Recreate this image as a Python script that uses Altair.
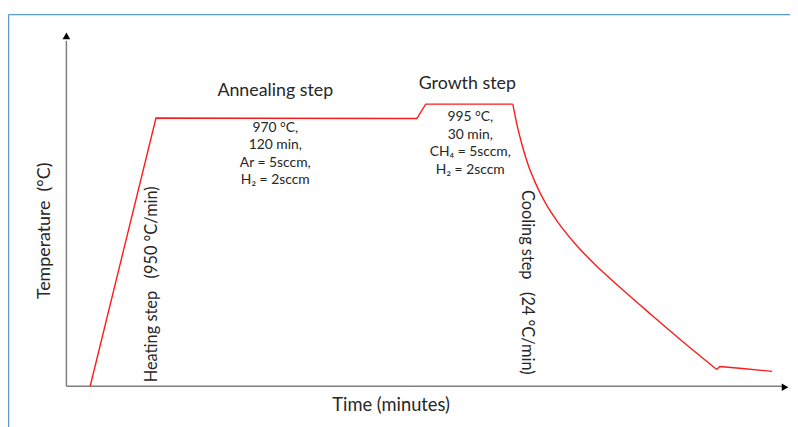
import altair as alt
import pandas as pd

# Schematic temperature profile (arbitrary time / temperature units)
# straight part: heating ramp, annealing plateau, growth plateau
ramp_time = [24, 90.5, 354, 363, 451]
ramp_temp = [0, 271, 270.5, 285, 285]
# smooth cooling curve
cool_time = [451, 455, 460, 466, 474, 484, 497, 513, 533, 558, 590, 624, 657]
cool_temp = [285, 265, 245, 225, 205, 185, 165, 145, 124, 101, 73, 44, 17]
# tail after cooling
tail_time = [657, 660, 683, 713]
tail_temp = [17, 20, 18, 15]

# Annotation texts
NB = "\u00a0"
step_titles = ["Annealing step", "Growth step"]
step_title_x = [211, 405]
step_title_y = [298, 305]

anneal_params = "970 °C,\n120 min,\nAr = 5sccm,\nH\u2082 = 2sccm"
growth_params = "995 °C,\n30 min,\nCH\u2084 = 5sccm,\nH\u2082 = 2sccm"
param_texts = [anneal_params, growth_params]
param_x = [211, 408]
param_y = [268, 279]

rot_texts = ["Temperature" + NB * 2 + "(°C)",
             "Heating step" + NB * 3 + "(950 °C/min)",
             "Cooling step" + NB * 3 + "(24 °C/min)"]
rot_x = [-22, 87, 465]
rot_y = [157, 103, 105]
rot_angle = [270, 270, 90]
rot_size = [18, 16.5, 16.5]

x_title = "Time (minutes)"

X_DOM = [-59, 731]
Y_DOM = [-39, 380]

def xs():
    return alt.Scale(domain=X_DOM, nice=False, zero=False)

def ys():
    return alt.Scale(domain=Y_DOM, nice=False, zero=False)

RED = "#FF1A1A"

def seg(t, T, interp):
    df = pd.DataFrame({"t": t, "T": T, "o": list(range(len(t)))})
    return alt.Chart(df).mark_line(color=RED, strokeWidth=1.4, interpolate=interp).encode(
        x=alt.X("t:Q", scale=xs(), axis=None),
        y=alt.Y("T:Q", scale=ys(), axis=None),
        order="o:Q",
    )

line1 = seg(ramp_time, ramp_temp, "linear")
line2 = seg(cool_time, cool_temp, "monotone")
line3 = seg(tail_time, tail_temp, "linear")

# Axes with arrows
axes_df = pd.DataFrame({
    "x": [0, 0], "x2": [0, 723], "y": [0, 0], "y2": [349, 0]
})
axes = alt.Chart(axes_df).mark_rule(color="#7F7F7F", strokeWidth=1.5).encode(
    x=alt.X("x:Q", scale=xs(), axis=None), x2="x2:Q",
    y=alt.Y("y:Q", scale=ys(), axis=None), y2="y2:Q",
)

arrow_df = pd.DataFrame({"x": [0, 726], "y": [354, -1], "shape": ["triangle-up", "triangle-right"]})
arrows = alt.Chart(arrow_df).mark_point(filled=True, color="black", size=60, opacity=1).encode(
    x=alt.X("x:Q", scale=xs(), axis=None),
    y=alt.Y("y:Q", scale=ys(), axis=None),
    shape=alt.Shape("shape:N", scale=None, legend=None),
)

# Blue frame
frame_df = pd.DataFrame({"x": [-58.4, -58.4], "x2": [745, -58.4], "y": [375.5, 375.5], "y2": [375.5, -45]})
frame = alt.Chart(frame_df).mark_rule(color="#5B9BD5", strokeWidth=1.3).encode(
    x=alt.X("x:Q", scale=xs(), axis=None), x2="x2:Q",
    y=alt.Y("y:Q", scale=ys(), axis=None), y2="y2:Q",
)

FONT = "Lato"
TXT = "#262626"

titles_df = pd.DataFrame({"x": step_title_x, "y": step_title_y, "label": step_titles})
titles = alt.Chart(titles_df).mark_text(font=FONT, fontSize=18, color=TXT, align="center", baseline="middle").encode(
    x=alt.X("x:Q", scale=xs(), axis=None),
    y=alt.Y("y:Q", scale=ys(), axis=None),
    text="label:N",
)

params_df = pd.DataFrame({"x": param_x, "y": param_y, "label": param_texts})
params = alt.Chart(params_df).mark_text(font=FONT, fontSize=14, color=TXT, align="center", baseline="top",
                                        lineBreak="\n", lineHeight=17.7).encode(
    x=alt.X("x:Q", scale=xs(), axis=None),
    y=alt.Y("y:Q", scale=ys(), axis=None),
    text="label:N",
)

rot_df = pd.DataFrame({"x": rot_x, "y": rot_y, "label": rot_texts})
rot_layers = []
for i in range(len(rot_texts)):
    rot_layers.append(
        alt.Chart(rot_df.iloc[[i]]).mark_text(font=FONT, fontSize=rot_size[i], color=TXT, align="center",
                                             baseline="middle", angle=rot_angle[i]).encode(
            x=alt.X("x:Q", scale=xs(), axis=None),
            y=alt.Y("y:Q", scale=ys(), axis=None),
            text="label:N",
        )
    )

xt_df = pd.DataFrame({"x": [328], "y": [-19], "label": [x_title]})
xt = alt.Chart(xt_df).mark_text(font=FONT, fontSize=18.5, color=TXT, align="center", baseline="middle").encode(
    x=alt.X("x:Q", scale=xs(), axis=None),
    y=alt.Y("y:Q", scale=ys(), axis=None),
    text="label:N",
)

chart = alt.layer(frame, axes, arrows, line1, line2, line3, titles, params, xt, *rot_layers).properties(
    width=790, height=419, autosize=alt.AutoSizeParams(type="none"), padding=0,
    background="white",
).configure_view(stroke=None)

chart.save("out.html", embed_options={"renderer": "svg", "actions": False})
